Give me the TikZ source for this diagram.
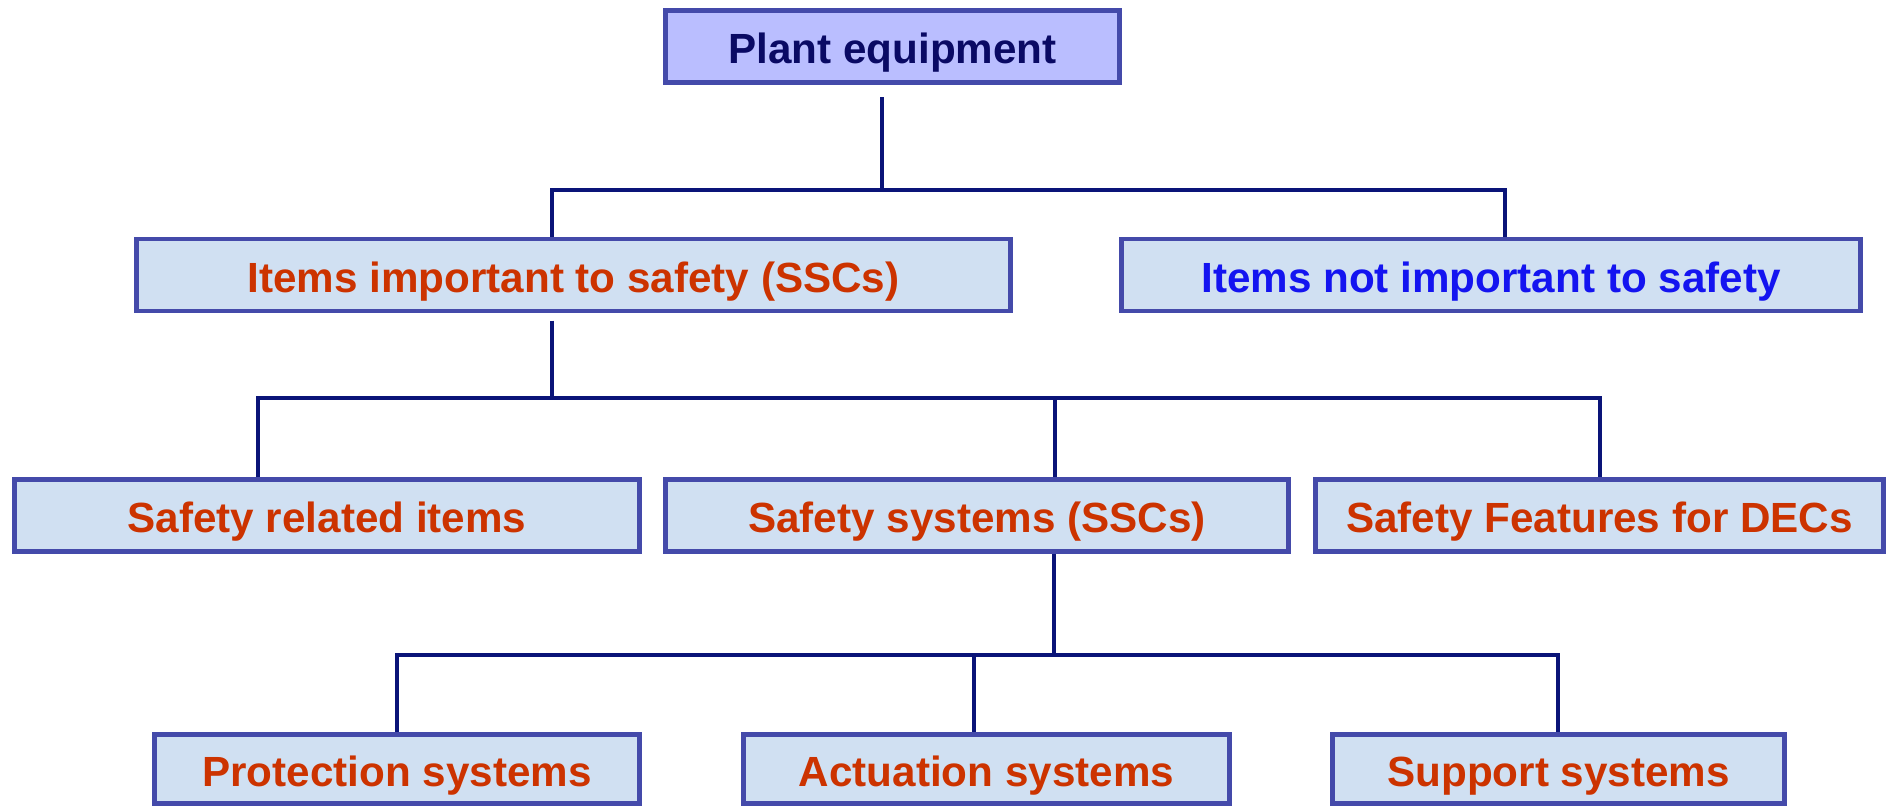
\documentclass[tikz,border=0pt]{standalone}
\usepackage{fontspec}
\setmainfont{Liberation Sans}
\definecolor{boxline}{RGB}{68,74,170}
\definecolor{boxfill}{RGB}{208,224,242}
\definecolor{topfill}{RGB}{186,190,255}
\definecolor{redtext}{RGB}{204,51,0}
\definecolor{navytext}{RGB}{10,10,100}
\definecolor{bluetext}{RGB}{20,20,240}
\definecolor{wireblue}{RGB}{10,20,120}
\begin{document}
\begin{tikzpicture}[x=0.01cm,y=-0.01cm,
    box/.style={draw=boxline,line width=1.4pt,fill=boxfill,inner sep=0pt,
        minimum height=0.72cm,text height=9.7pt,text depth=0pt,
        text=redtext,font=\bfseries\fontsize{12}{14}\selectfont},
    wire/.style={draw=wireblue,line width=1.1pt}]
    \useasboundingbox(0,0) rectangle (1887,805);
    \clip(0,0) rectangle (1887,805);
    % boxes
    \node[box,fill=topfill,text=navytext,minimum width=4.54cm](plant) at (892.5,46.5){Plant equipment};
    \node[box,minimum width=8.74cm](imp) at (573.5,275){Items important to safety (SSCs)};
    \node[box,minimum width=7.39cm,text=bluetext](notimp) at (1491,275){Items not important to safety};
    \node[box,minimum width=6.25cm](rel) at (327,515.5){Safety related items};
    \node[box,minimum width=6.23cm](sys) at (977,515.5){Safety systems (SSCs)};
    \node[box,minimum width=5.68cm](dec) at (1599.5,515.5){Safety Features for DECs};
    \node[box,minimum width=4.85cm,minimum height=0.69cm](prot) at (397,769){Protection systems};
    \node[box,minimum width=4.86cm,minimum height=0.69cm](act) at (986.5,769){Actuation systems};
    \node[box,minimum width=4.52cm,minimum height=0.69cm](sup) at (1558.5,769){Support systems};
    % junctions
    \coordinate(j1) at (882,190);
    \coordinate(a1) at (552,190);
    \coordinate(a2) at (1505,190);
    \coordinate(b0) at (552,398);
    \coordinate(b1) at (258,398);
    \coordinate(b2) at (1055,398);
    \coordinate(b3) at (1600,398);
    \coordinate(c0) at (1054,655);
    \coordinate(c1) at (397,655);
    \coordinate(c2) at (974,655);
    \coordinate(c3) at (1558,655);
    % connectors
    \draw[wire,shorten <=0.12cm](j1 |- plant.south)--(j1);
    \draw[wire](imp.north -| a1) |- (a2)--(notimp.north -| a2);
    \draw[wire,shorten <=0.07cm](b0 |- imp.south)--(b0);
    \draw[wire](rel.north -| b1) |- (b3)--(dec.north -| b3);
    \draw[wire](b2)--(sys.north -| b2);
    \draw[wire](c0 |- sys.south)--(c0);
    \draw[wire](prot.north -| c1) |- (c3)--(sup.north -| c3);
    \draw[wire](c2)--(act.north -| c2);
\end{tikzpicture}
\end{document}
